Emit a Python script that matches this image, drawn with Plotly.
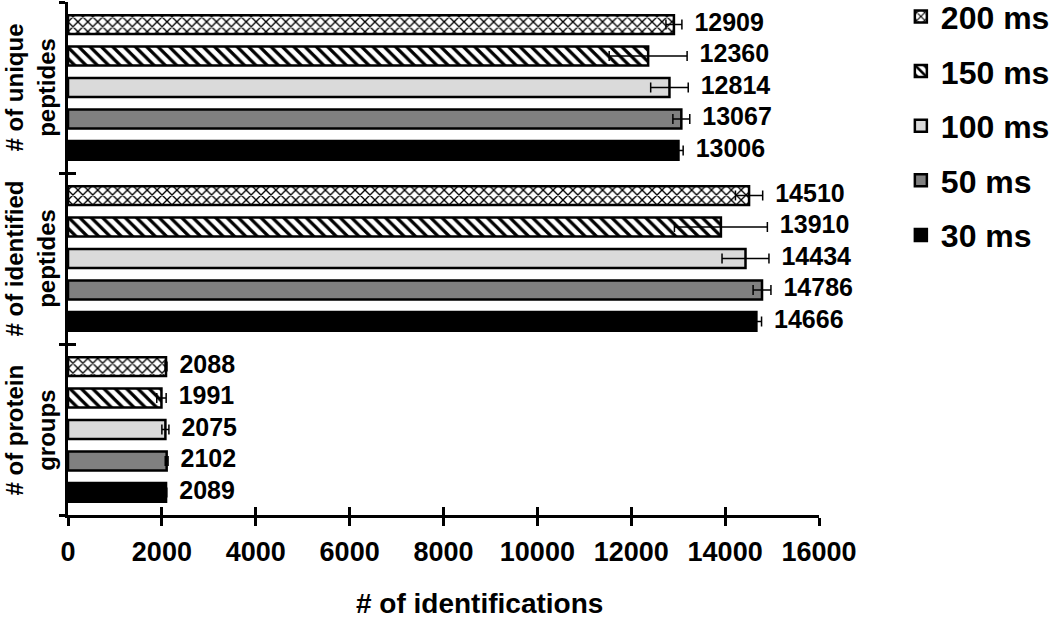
import plotly.graph_objects as go

# ---- data ----
categories = ["# of protein<br>groups", "# of identified<br>peptides", "# of unique<br>peptides"]  # bottom -> top
series_names = ["30 ms", "50 ms", "100 ms", "150 ms", "200 ms"]
# values per series, in category order (protein, identified, unique)
val_30 = [2089, 14666, 13006]
val_50 = [2102, 14786, 13067]
val_100 = [2075, 14434, 12814]
val_150 = [1991, 13910, 12360]
val_200 = [2088, 14510, 12909]
err_30 = [15, 110, 100]
err_50 = [30, 190, 180]
err_100 = [75, 500, 400]
err_150 = [100, 990, 830]
err_200 = [20, 290, 170]
x_ticks = [0, 2000, 4000, 6000, 8000, 10000, 12000, 14000, 16000]
x_title = "# of identifications"

values = [val_30, val_50, val_100, val_150, val_200]
errors = [err_30, err_50, err_100, err_150, err_200]

# ---- styles ----
FONT = "Arial, Liberation Sans, sans-serif"
fills = ["#000000", "#808080", "#dadada", "#ffffff", "#ffffff"]
patterns = [
    dict(shape=""),
    dict(shape=""),
    dict(shape=""),
    dict(shape="\\", fgcolor="#000000", bgcolor="#ffffff", size=8, solidity=0.4),
    dict(shape="x", fgcolor="#000000", bgcolor="#ffffff", size=7, solidity=0.35),
]
ranks = [5, 4, 3, 2, 1]

fig = go.Figure()
for name, v, e, col, pat, rk in zip(series_names, values, errors, fills, patterns, ranks):
    fig.add_trace(go.Bar(
        y=categories, x=v, orientation="h", name=name, legendgroup=name, legendrank=rk,
        marker=dict(color=col, line=dict(color="#000000", width=2.5), pattern=pat),
        error_x=dict(type="data", array=e, visible=True, color="#000000", thickness=1.5, width=5),
        hoverinfo="skip",
    ))

for name, v, e in zip(series_names, values, errors):
    fig.add_trace(go.Scatter(
        y=categories, x=[a + b for a, b in zip(v, e)], orientation="h", mode="text",
        text=["\u2002" + str(a) for a in v], textposition="middle right",
        textfont=dict(family=FONT, size=25, color="#000000", weight="bold"),
        showlegend=False, cliponaxis=False, hoverinfo="skip",
    ))

# empty helper traces so the overlay axes (inner half of the crossing ticks) are drawn
fig.add_trace(go.Scatter(x=[], y=[], xaxis="x2", yaxis="y", showlegend=False, hoverinfo="skip"))
fig.add_trace(go.Scatter(x=[], y=[], xaxis="x", yaxis="y2", showlegend=False, hoverinfo="skip"))

fig.update_layout(
    template="none",
    width=1050, height=620,
    margin=dict(l=68, r=231, t=2, b=105, autoexpand=False),
    paper_bgcolor="#ffffff", plot_bgcolor="#ffffff",
    barmode="group", bargap=0.08, bargroupgap=0.4,
    scattermode="group", scattergap=0.08,
    showlegend=True,
    legend=dict(
        x=1.109, y=1.025, xanchor="left", yanchor="top",
        traceorder="grouped", tracegroupgap=10,
        font=dict(family=FONT, size=32, color="#000000", weight="bold"),
        bgcolor="rgba(0,0,0,0)", borderwidth=0,
    ),
    xaxis=dict(
        range=[0, 16000], tickmode="array", tickvals=x_ticks, ticktext=[str(t) for t in x_ticks],
        showline=True, linecolor="#000000", linewidth=3,
        ticks="outside", ticklen=8, tickwidth=3, tickcolor="#000000",
        ticklabelstandoff=3, automargin=False,
        tickfont=dict(family=FONT, size=27, color="#000000", weight="bold"),
        showgrid=False, zeroline=False,
    ),
    xaxis2=dict(
        overlaying="x", anchor="y", side="bottom", range=[0, 16000],
        tickmode="array", tickvals=x_ticks, showticklabels=False,
        ticks="inside", ticklen=8, tickwidth=3, tickcolor="#000000",
        showline=False, showgrid=False, zeroline=False, automargin=False,
    ),
    yaxis=dict(
        type="category", categoryorder="array", categoryarray=categories,
        range=[-0.5, 2.5],
        showline=True, linecolor="#000000", linewidth=3,
        ticks="outside", tickson="boundaries", ticklen=6, tickwidth=3, tickcolor="#000000",
        showticklabels=False, showgrid=False, zeroline=False, automargin=False,
    ),
    yaxis2=dict(
        overlaying="y", anchor="x", side="left", range=[-0.5, 2.5],
        tickmode="array", tickvals=[-0.5, 0.5, 1.5, 2.5], showticklabels=False,
        ticks="inside", ticklen=8, tickwidth=3, tickcolor="#000000",
        showline=False, showgrid=False, zeroline=False, automargin=False,
    ),
)

# category labels (rotated)
for c in categories:
    fig.add_annotation(
        x=-0.0506, xref="paper", y=c, yref="y", text=c, textangle=-90,
        showarrow=False, xanchor="center", yanchor="middle",
        font=dict(family=FONT, size=24, color="#000000", weight="bold"),
    )

# x axis title
fig.add_annotation(
    x=0.5486, xref="paper", y=-0.172, yref="paper", text=x_title,
    showarrow=False, xanchor="center", yanchor="middle",
    font=dict(family=FONT, size=28, color="#000000", weight="bold"),
)

fig.write_html("out.html", config={"displayModeBar": False},
               post_script="document.body.style.margin='0px';")
